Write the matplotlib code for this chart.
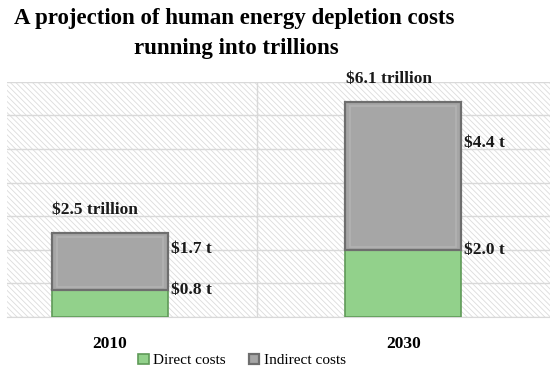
import matplotlib.pyplot as plt
from matplotlib.patches import Rectangle

# Data (trillions of dollars)
years = ['2010', '2030']
direct = [0.8, 2.0]
indirect = [1.7, 4.4]
totals = ['$2.5 trillion', '$6.1 trillion']

plt.rcParams['font.family'] = ['Liberation Serif', 'DejaVu Serif']
plt.rcParams['hatch.linewidth'] = 0.6

fig = plt.figure(figsize=(5.5, 3.81), dpi=100)
ax = fig.add_axes([0.013, 0.168, 0.987, 0.617])

x = list(range(len(years)))
w = 0.395

# hatched background
bg = Rectangle((0, 0), 1, 1, transform=ax.transAxes, facecolor='white',
               edgecolor='#dcdcdc', hatch='\\' * 6, linewidth=0, zorder=0)
ax.add_patch(bg)

ax.bar(x, direct, w, color='#92d18b', edgecolor='#5f9a58', linewidth=1.2,
       label='Direct costs', zorder=3)
ax.bar(x, indirect, w, bottom=direct, color='#a6a6a6', edgecolor='#6e6e6e',
       linewidth=1.6, label='Indirect costs', zorder=3)
# bevel highlight inside the grey segments
tops = [d + i for d, i in zip(direct, indirect)]
ax.bar(x, [i - 0.2 for i in indirect], w - 0.035, bottom=[d + 0.08 for d in direct],
       fill=False, edgecolor='#b3b3b3', linewidth=1.2, zorder=4)

lab = dict(fontsize=12.5, fontweight='bold', color='#1a1a1a')
for i in x:
    ax.text(i + w / 2 + 0.01, direct[i], f'${direct[i]:.1f} t', ha='left', va='center', **lab)
    ax.text(i + w / 2 + 0.01, direct[i] + indirect[i] * 0.72, f'${indirect[i]:.1f} t',
            ha='left', va='center', **lab)
    ax.text(i - 0.05, tops[i] + 0.68, totals[i], ha='center', va='center', **lab)

ax.set_xlim(-0.35, 1.5)
ax.set_ylim(0, 7)
ax.set_yticks(range(0, 8))
ax.set_yticklabels([])
ax.set_xticks([0.5], minor=True)
ax.set_xticks(x)
ax.set_xticklabels(years, fontsize=12.5, fontweight='bold')
ax.tick_params(axis='both', which='both', length=0)
ax.tick_params(axis='x', pad=14)
ax.grid(True, axis='y', color='#d9d9d9', linewidth=1, zorder=1)
ax.grid(True, axis='x', which='minor', color='#d9d9d9', linewidth=1, zorder=1)
ax.set_axisbelow(True)
for s in ['top', 'right', 'left']:
    ax.spines[s].set_visible(False)
ax.spines['bottom'].set_color('#d9d9d9')

fig.legend(loc='lower center', bbox_to_anchor=(0.44, 0.0), ncol=2, frameon=False,
           fontsize=11, handlelength=0.7, handleheight=0.7, handletextpad=0.3,
           columnspacing=1.5)

fig.text(0.026, 0.952, 'A projection of human energy depletion costs', fontsize=16.5,
         fontweight='bold', ha='left', va='center')
fig.text(0.43, 0.872, 'running into trillions', fontsize=16.5,
         fontweight='bold', ha='center', va='center')

fig.savefig('out.png', dpi=100)
